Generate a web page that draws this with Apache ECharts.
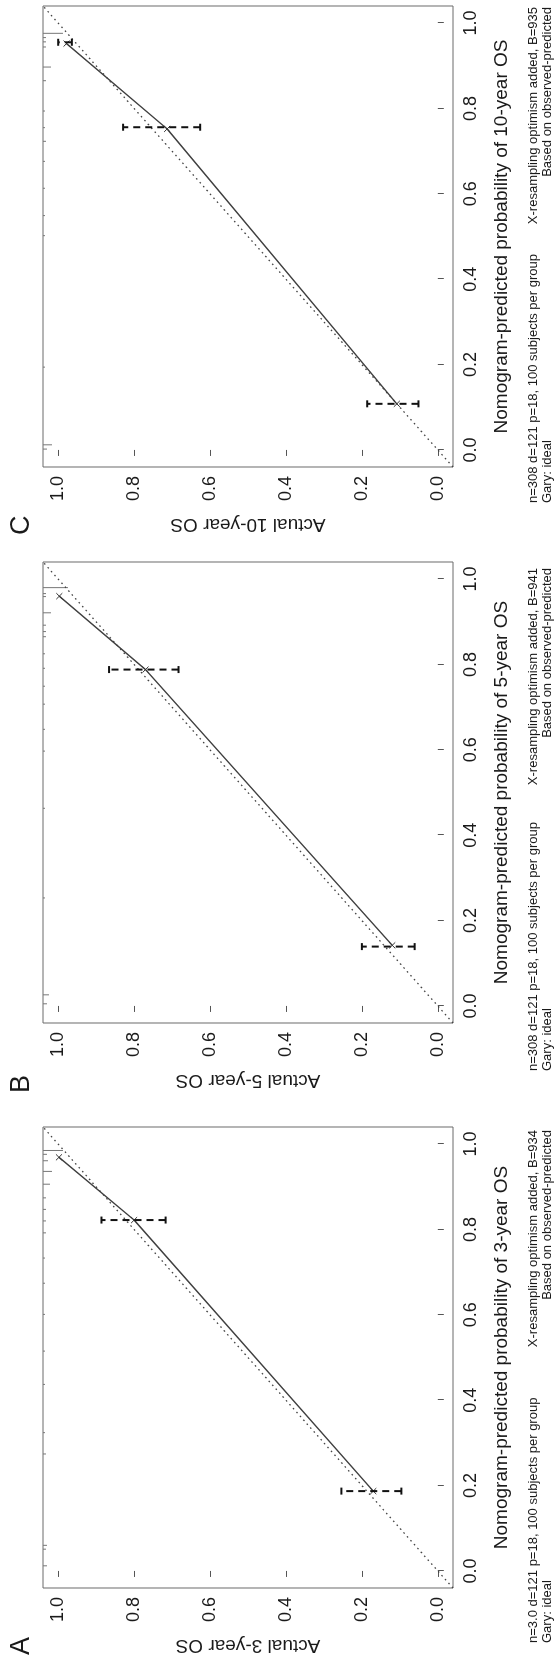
<!DOCTYPE html>
<html><head><meta charset="utf-8">
<script src="https://cdn.jsdelivr.net/npm/echarts@6/dist/echarts.min.js"></script>
<style>
html,body{margin:0;padding:0;width:558px;height:1661px;overflow:hidden;background:#fff;}
#rot{position:absolute;left:0;top:0;width:1661px;height:558px;transform-origin:0 0;transform:translateY(1661px) rotate(-90deg);}
#chart{width:1661px;height:558px;}
</style></head><body>
<div id="rot"><div id="chart"></div></div>
<script>
// ---------------- data ----------------
const panelLetters = ['A', 'B', 'C'];
const xTitles = ['Nomogram-predicted probability of 3-year OS', 'Nomogram-predicted probability of 5-year OS', 'Nomogram-predicted probability of 10-year OS'];
const yTitles = ['Actual 3-year OS', 'Actual 5-year OS', 'Actual 10-year OS'];
const noteLeft1 = ['n=3.0 d=121 p=18, 100 subjects per group', 'n=308 d=121 p=18, 100 subjects per group', 'n=308 d=121 p=18, 100 subjects per group'];
const noteLeft2 = ['Gary: ideal', 'Gary: ideal', 'Gary: ideal'];
const noteRight1 = ['X-resampling optimism added, B=934', 'X-resampling optimism added, B=941', 'X-resampling optimism added, B=935'];
const noteRight2 = ['Based on observed-predicted', 'Based on observed-predicted', 'Based on observed-predicted'];
const tickValues = [0, 0.2, 0.4, 0.6, 0.8, 1.0];
const axisMin = -0.04, axisMax = 1.04;

// calibration points (predicted, observed) and error bars
const predA = [0.187, 0.822, 0.969];
const obsA  = [0.170, 0.800, 0.998];
const barPredA = [0.187, 0.822];
const barLoA = [0.096, 0.717];
const barHiA = [0.254, 0.886];

const predB = [0.142, 0.788, 0.960];
const obsB  = [0.120, 0.770, 0.997];
const barPredB = [0.139, 0.788];
const barLoB = [0.061, 0.683];
const barHiB = [0.200, 0.866];

const predC = [0.108, 0.752, 0.952];
const obsC  = [0.108, 0.713, 0.978];
const barPredC = [0.108, 0.756, 0.955];
const barLoC = [0.051, 0.626, 0.964];
const barHiC = [0.186, 0.829, 1.000];

// distribution of predicted values (rug at top), relative counts
const rugPredA = [0.985, 0.976, 0.961, 0.936, 0.906, 0.874, 0.847, 0.820, 0.792, 0.733, 0.674, 0.601, 0.515, 0.437, 0.324, 0.274, 0.060, 0.051, 0.012];
const rugCntA  = [20, 4, 5, 9, 7, 3, 3, 3, 3, 2, 2, 2, 2, 2, 2, 3, 4, 3, 4];
const rugPredB = [0.980, 0.966, 0.959, 0.921, 0.892, 0.877, 0.865, 0.825, 0.791, 0.749, 0.707, 0.648, 0.597, 0.463, 0.253, 0.026, 0.005];
const rugCntB  = [25, 3, 3, 8, 3, 3, 3, 2, 2, 2, 2, 2, 2, 2, 2, 6, 4];
const rugPredC = [0.976, 0.966, 0.956, 0.944, 0.897, 0.865, 0.794, 0.755, 0.723, 0.676, 0.613, 0.549, 0.502, 0.194, 0.012, 0.002];
const rugCntC  = [20, 3, 3, 3, 8, 3, 2, 2, 3, 2, 2, 2, 2, 2, 9, 4];

// ---------------- build ----------------
const panels = [
  {pred: predA, obs: obsA, bp: barPredA, lo: barLoA, hi: barHiA, rp: rugPredA, rc: rugCntA},
  {pred: predB, obs: obsB, bp: barPredB, lo: barLoB, hi: barHiB, rp: rugPredB, rc: rugCntB},
  {pred: predC, obs: obsC, bp: barPredC, lo: barLoC, hi: barHiC, rp: rugPredC, rc: rugCntC}
];
const gridLefts = [73, 638, 1194];
const letterX = [6, 568, 1126];
const noteLX = [18, 590, 1158];
const noteRX = [531, 1093, 1654];
const FONT = '"Liberation Sans", Arial, Helvetica, sans-serif';
const TXT = '#1a1a1a';
const RUG_UNIT = 1 / 380; // data units per count

const grid = [], xAxis = [], yAxis = [], series = [], graphic = [];
panels.forEach((p, i) => {
  grid.push({left: gridLefts[i], top: 43, width: 461, height: 410, show: true, borderColor: '#6a6a6a', borderWidth: 1, backgroundColor: 'transparent'});
  const common = {
    type: 'value', gridIndex: i, min: axisMin, max: axisMax,
    axisLine: {show: false}, splitLine: {show: false},
    axisTick: {show: true, customValues: tickValues, length: 6, lineStyle: {color: '#555', width: 1}},
    axisLabel: {customValues: tickValues, formatter: v => v.toFixed(1), fontSize: 18, color: TXT, margin: 9, fontFamily: FONT},
    nameLocation: 'middle',
    nameTextStyle: {fontSize: 19, color: TXT, fontFamily: FONT}
  };
  xAxis.push(Object.assign({}, common, {name: xTitles[i], nameGap: 39}));
  yAxis.push(Object.assign({}, common, {name: yTitles[i], nameGap: 48, nameRotate: 90}));

  // ideal line
  series.push({type: 'line', xAxisIndex: i, yAxisIndex: i, data: [[axisMin, axisMin], [axisMax, axisMax]],
    showSymbol: false, silent: true, lineStyle: {color: '#444', width: 1.3, type: [1.6, 3.6]}, z: 2});
  // calibration line
  series.push({type: 'line', xAxisIndex: i, yAxisIndex: i, data: p.pred.map((v, k) => [v, p.obs[k]]),
    symbol: 'path://M0,0L10,10M10,0L0,10', symbolSize: 6, showSymbol: true,
    itemStyle: {color: 'none', borderColor: '#333', borderWidth: 1},
    lineStyle: {color: '#404040', width: 1.4}, z: 3});
  // error bars
  series.push({type: 'custom', xAxisIndex: i, yAxisIndex: i, data: p.bp.map((v, k) => [v, p.lo[k], p.hi[k]]),
    renderItem: (params, api) => {
      const a = api.coord([api.value(0), api.value(1)]);
      const b = api.coord([api.value(0), api.value(2)]);
      const c = 3.5;
      const st = {stroke: '#111', lineWidth: 2};
      return {type: 'group', children: [
        {type: 'line', shape: {x1: a[0], y1: a[1], x2: b[0], y2: b[1]}, style: Object.assign({lineDash: [7, 5]}, st)},
        {type: 'line', shape: {x1: a[0] - c, y1: a[1], x2: a[0] + c, y2: a[1]}, style: st},
        {type: 'line', shape: {x1: b[0] - c, y1: b[1], x2: b[0] + c, y2: b[1]}, style: st}
      ]};
    }, z: 4});
  // rug of predicted values at top
  series.push({type: 'custom', xAxisIndex: i, yAxisIndex: i, data: p.rp.map((v, k) => [v, p.rc[k]]),
    renderItem: (params, api) => {
      const t = api.coord([api.value(0), axisMax]);
      const b = api.coord([api.value(0), axisMax - api.value(1) * RUG_UNIT]);
      return {type: 'line', shape: {x1: t[0], y1: t[1], x2: b[0], y2: b[1]}, style: {stroke: '#777', lineWidth: 1}};
    }, z: 1});

  graphic.push({type: 'text', left: letterX[i], top: 8, style: {text: panelLetters[i], font: '27px ' + FONT, fill: TXT}});
  graphic.push({type: 'text', x: noteLX[i], y: 533, style: {text: noteLeft1[i], font: '13px ' + FONT, fill: TXT, verticalAlign: 'middle', align: 'left'}});
  graphic.push({type: 'text', x: noteLX[i], y: 547, style: {text: noteLeft2[i], font: '13px ' + FONT, fill: TXT, verticalAlign: 'middle', align: 'left'}});
  graphic.push({type: 'text', x: noteRX[i], y: 533, style: {text: noteRight1[i], font: '13px ' + FONT, fill: TXT, verticalAlign: 'middle', align: 'right'}});
  graphic.push({type: 'text', x: noteRX[i], y: 547, style: {text: noteRight2[i], font: '13px ' + FONT, fill: TXT, verticalAlign: 'middle', align: 'right'}});
});

const chart = echarts.init(document.getElementById('chart'), null, {renderer: 'canvas', width: 1661, height: 558});
chart.setOption({animation: false, backgroundColor: '#fff', textStyle: {fontFamily: FONT}, grid, xAxis, yAxis, series, graphic});
</script>
</body></html>
